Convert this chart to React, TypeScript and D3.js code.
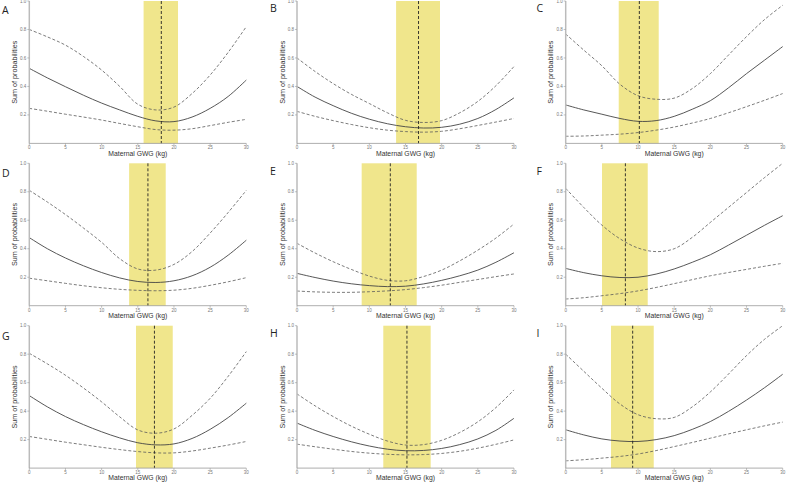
import React from 'react';
import * as d3 from 'd3';

const panelLetters = ['A', 'B', 'C', 'D', 'E', 'F', 'G', 'H', 'I'];
const gwgGrid = [0, 2.5, 5, 7.5, 10, 12.5, 15, 17.5, 20, 22.5, 25, 27.5, 30];
const xTicks = [0, 5, 10, 15, 20, 25, 30];
const yTicks = [0.2, 0.4, 0.6, 0.8, 1.0];

// estimated sum of probabilities at gwgGrid, one row per panel A..I
const estimateCurves = [
  [0.527, 0.46, 0.398, 0.338, 0.283, 0.235, 0.19, 0.158, 0.153, 0.185, 0.246, 0.33, 0.445],
  [0.40, 0.325, 0.265, 0.212, 0.17, 0.138, 0.117, 0.108, 0.113, 0.135, 0.175, 0.238, 0.32],
  [0.27, 0.235, 0.205, 0.175, 0.155, 0.16, 0.19, 0.24, 0.30, 0.39, 0.49, 0.585, 0.68],
  [0.478, 0.40, 0.335, 0.28, 0.233, 0.195, 0.17, 0.163, 0.175, 0.21, 0.27, 0.355, 0.46],
  [0.227, 0.198, 0.173, 0.154, 0.141, 0.134, 0.137, 0.153, 0.178, 0.21, 0.25, 0.305, 0.372],
  [0.262, 0.232, 0.21, 0.198, 0.2, 0.222, 0.258, 0.305, 0.358, 0.425, 0.495, 0.565, 0.632],
  [0.509, 0.43, 0.362, 0.305, 0.255, 0.212, 0.178, 0.163, 0.17, 0.208, 0.272, 0.355, 0.456],
  [0.316, 0.265, 0.222, 0.185, 0.155, 0.133, 0.122, 0.124, 0.138, 0.165, 0.205, 0.265, 0.35],
  [0.269, 0.233, 0.205, 0.19, 0.187, 0.2, 0.228, 0.272, 0.327, 0.398, 0.478, 0.565, 0.659],
];
const upperCurves = [
  [0.80, 0.748, 0.69, 0.61, 0.515, 0.40, 0.275, 0.235, 0.255, 0.35, 0.48, 0.64, 0.82],
  [0.60, 0.505, 0.42, 0.345, 0.28, 0.215, 0.162, 0.147, 0.16, 0.215, 0.295, 0.405, 0.54],
  [0.768, 0.655, 0.545, 0.415, 0.335, 0.31, 0.318, 0.385, 0.49, 0.62, 0.75, 0.87, 0.97],
  [0.81, 0.728, 0.64, 0.545, 0.445, 0.33, 0.258, 0.25, 0.29, 0.38, 0.51, 0.655, 0.81],
  [0.438, 0.37, 0.309, 0.255, 0.208, 0.178, 0.175, 0.205, 0.25, 0.315, 0.39, 0.475, 0.574],
  [0.824, 0.69, 0.566, 0.47, 0.405, 0.38, 0.40, 0.48, 0.585, 0.69, 0.795, 0.9, 1.0],
  [0.806, 0.732, 0.652, 0.562, 0.465, 0.36, 0.268, 0.245, 0.275, 0.37, 0.49, 0.645, 0.818],
  [0.521, 0.437, 0.362, 0.295, 0.238, 0.19, 0.162, 0.165, 0.195, 0.25, 0.325, 0.425, 0.549],
  [0.80, 0.68, 0.561, 0.45, 0.375, 0.347, 0.356, 0.43, 0.535, 0.66, 0.79, 0.905, 1.0],
];
const lowerCurves = [
  [0.246, 0.226, 0.205, 0.185, 0.164, 0.14, 0.117, 0.097, 0.093, 0.103, 0.125, 0.148, 0.169],
  [0.225, 0.19, 0.16, 0.133, 0.11, 0.093, 0.083, 0.079, 0.085, 0.103, 0.126, 0.15, 0.175],
  [0.05, 0.052, 0.058, 0.065, 0.076, 0.093, 0.115, 0.143, 0.175, 0.215, 0.258, 0.303, 0.35],
  [0.193, 0.175, 0.157, 0.14, 0.126, 0.115, 0.108, 0.105, 0.109, 0.122, 0.143, 0.168, 0.197],
  [0.103, 0.097, 0.094, 0.094, 0.098, 0.104, 0.113, 0.127, 0.144, 0.164, 0.184, 0.204, 0.223],
  [0.047, 0.056, 0.07, 0.085, 0.104, 0.128, 0.155, 0.183, 0.21, 0.233, 0.255, 0.277, 0.298],
  [0.222, 0.202, 0.182, 0.164, 0.146, 0.13, 0.116, 0.107, 0.107, 0.12, 0.14, 0.162, 0.187],
  [0.168, 0.15, 0.133, 0.117, 0.105, 0.097, 0.093, 0.095, 0.103, 0.118, 0.14, 0.167, 0.198],
  [0.051, 0.059, 0.07, 0.082, 0.099, 0.123, 0.151, 0.18, 0.21, 0.24, 0.269, 0.297, 0.323],
];
const bandLow = [15.8, 13.7, 7.33, 13.8, 8.94, 5.02, 14.75, 11.93, 6.26];
const bandHigh = [20.56, 19.77, 12.86, 18.86, 16.55, 11.34, 19.83, 18.48, 12.17];
const optimumGwg = [18.25, 16.8, 10.18, 16.4, 12.9, 8.25, 17.3, 15.2, 9.26];

const colLeft = [29.3, 297, 565.7];
const rowTop = [1, 163.3, 325.7];
const plotW = 217;
const plotH = 142.4;
const FONT = "'Liberation Sans', Arial, sans-serif";

function Panel({ idx }: { idx: number }) {
  const col = idx % 3;
  const row = Math.floor(idx / 3);
  const x0 = colLeft[col];
  const y0 = rowTop[row];
  const x = d3.scaleLinear().domain([0, 30]).range([x0, x0 + plotW]);
  const y = d3.scaleLinear().domain([0, 1]).range([y0 + plotH, y0]);
  const line = d3
    .line<number>()
    .x((_, i) => x(gwgGrid[i]))
    .y((v) => y(v))
    .curve(d3.curveCatmullRom.alpha(0.5));
  const letterX = [2, 270, 536.5][col];
  const letterY = [14, 11.7, 11.7][col] + row * 162.3 + (row > 0 ? 1 : 0);
  return (
    <g>
      <rect
        x={x(bandLow[idx])}
        y={y(1)}
        width={x(bandHigh[idx]) - x(bandLow[idx])}
        height={y(0) - y(1)}
        fill="#F0E68C"
      />
      <path d={line(upperCurves[idx]) || ''} fill="none" stroke="#5a5a5a" strokeWidth={0.8} strokeDasharray="3,2" />
      <path d={line(lowerCurves[idx]) || ''} fill="none" stroke="#5a5a5a" strokeWidth={0.8} strokeDasharray="3,2" />
      <path d={line(estimateCurves[idx]) || ''} fill="none" stroke="#444" strokeWidth={0.9} />
      <line
        x1={x(optimumGwg[idx])}
        x2={x(optimumGwg[idx])}
        y1={y(1)}
        y2={y(0)}
        stroke="#222"
        strokeWidth={0.9}
        strokeDasharray="3,2"
      />
      {/* y axis */}
      <line x1={x0} x2={x0} y1={y(1)} y2={y(0)} stroke="#bbb" strokeWidth={1.5} />
      {yTicks.map((t) => (
        <g key={'y' + t}>
          <line x1={x0 - 2} x2={x0} y1={y(t)} y2={y(t)} stroke="#999" strokeWidth={0.6} />
          <text x={x0 - 3} y={y(t)} dy="0.35em" textAnchor="end" fontSize={4.5} fill="#777" fontFamily={FONT}>
            {t.toFixed(1)}
          </text>
        </g>
      ))}
      {/* x axis */}
      <line x1={x(0)} x2={x(30)} y1={y(0)} y2={y(0)} stroke="#999" strokeWidth={0.8} />
      {xTicks.map((t) => (
        <g key={'x' + t}>
          <line x1={x(t)} x2={x(t)} y1={y(0)} y2={y(0) + 2} stroke="#999" strokeWidth={0.6} />
          <text x={x(t)} y={y(0) + 6} textAnchor="middle" fontSize={4.5} fill="#777" fontFamily={FONT}>
            {t}
          </text>
        </g>
      ))}
      <text
        x={(x(0) + x(30)) / 2}
        y={y(0) + 12.3}
        textAnchor="middle"
        fontSize={6.8}
        fill="#333"
        fontFamily={FONT}
      >
        Maternal GWG (kg)
      </text>
      <text
        transform={`translate(${x0 - 12.5},${y0 + plotH / 2}) rotate(-90)`}
        textAnchor="middle"
        fontSize={7.2}
        fill="#333"
        fontFamily={FONT}
      >
        Sum of probabilities
      </text>
      <text x={letterX} y={letterY} fontSize={10.5} fill="#222" fontFamily="'Open Sans', sans-serif">
        {panelLetters[idx]}
      </text>
    </g>
  );
}

export default function App() {
  return (
    <svg
      width={786}
      height={483}
      style={{ position: 'absolute', left: 0, top: 0, background: '#fff' }}
    >
      <rect width={786} height={483} fill="#fff" />
      {panelLetters.map((_, i) => (
        <Panel key={i} idx={i} />
      ))}
    </svg>
  );
}
